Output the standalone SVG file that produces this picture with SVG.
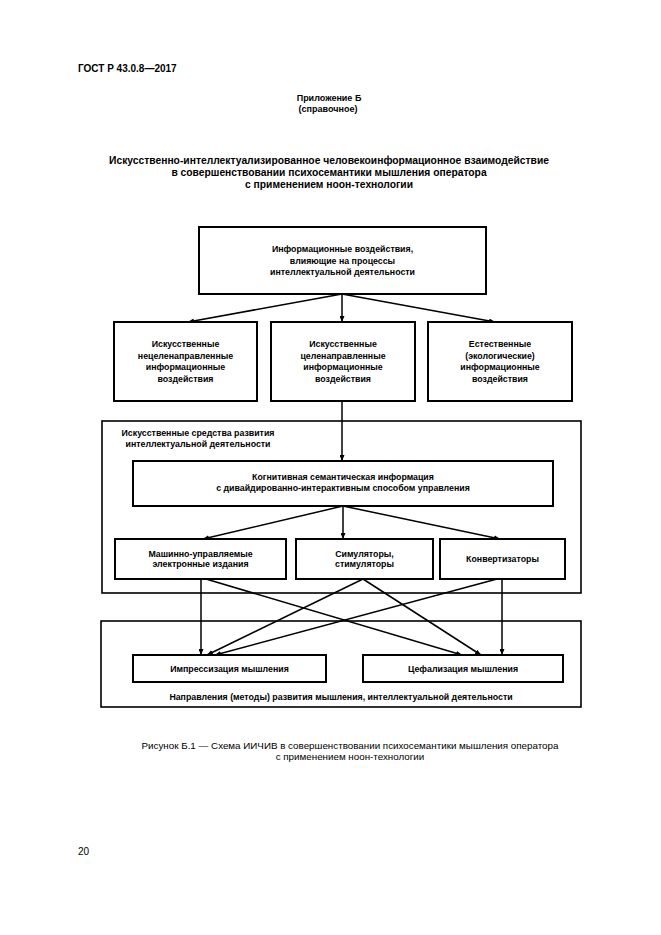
<svg xmlns="http://www.w3.org/2000/svg" width="661" height="935" viewBox="0 0 661 935">
<defs>
<style>
.t{font-family:"Liberation Sans",Arial,sans-serif;fill:#000}
.b{font-weight:bold}
.box{fill:#fff;stroke:#000;stroke-width:2}
.cont{fill:#fff;stroke:#000;stroke-width:1.6}
.ln{stroke:#000;stroke-width:1.5;fill:none}
.nt{font-size:8.8px;font-weight:bold;text-anchor:middle}
</style>
<marker id="ah" markerWidth="6" markerHeight="5" refX="6" refY="2.5" orient="auto" markerUnits="userSpaceOnUse">
<path d="M0,0 L6,2.5 L0,5 Z" fill="#000"/>
</marker>
</defs>
<rect width="661" height="935" fill="#fff"/>
<text class="t b" x="78" y="72" font-size="10">ГОСТ Р 43.0.8—2017</text>
<text class="t b" x="329" y="101" font-size="9" text-anchor="middle">Приложение Б</text>
<text class="t b" x="328" y="112" font-size="9" text-anchor="middle">(справочное)</text>
<text class="t b" x="329" y="164" font-size="10.3" text-anchor="middle">Искусственно-интеллектуализированное человекоинформационное взаимодействие</text>
<text class="t b" x="329" y="176" font-size="10.3" text-anchor="middle">в совершенствовании психосемантики мышления оператора</text>
<text class="t b" x="329" y="188" font-size="10.3" text-anchor="middle">с применением ноон-технологии</text>

<g id="containers">
<rect id="c1" class="cont" x="102" y="421" width="479" height="172"/>
<rect id="c2" class="cont" x="101" y="621" width="480" height="86"/>
<text class="t nt" x="198" y="436">Искусственные средства развития</text>
<text class="t nt" x="198" y="447">интеллектуальной деятельности</text>
<text class="t nt" x="341" y="700">Направления (методы) развития мышления, интеллектуальной деятельности</text>
</g>

<g id="connectors">
<line class="ln" x1="342" y1="294" x2="188" y2="322" marker-end="url(#ah)"/>
<line class="ln" x1="342" y1="294" x2="342" y2="322" marker-end="url(#ah)"/>
<line class="ln" x1="342" y1="294" x2="495" y2="322" marker-end="url(#ah)"/>
<line class="ln" x1="342" y1="401" x2="342" y2="461" marker-end="url(#ah)"/>
<line class="ln" x1="343" y1="506" x2="203" y2="539" marker-end="url(#ah)"/>
<line class="ln" x1="343" y1="506" x2="343" y2="539" marker-end="url(#ah)"/>
<line class="ln" x1="343" y1="506" x2="500" y2="539" marker-end="url(#ah)"/>
<line class="ln" x1="201" y1="579" x2="201" y2="655" marker-end="url(#ah)"/>
<line class="ln" x1="206" y1="579" x2="462" y2="655" marker-end="url(#ah)"/>
<line class="ln" x1="363" y1="579" x2="207" y2="655" marker-end="url(#ah)"/>
<line class="ln" x1="363" y1="579" x2="481" y2="655" marker-end="url(#ah)"/>
<line class="ln" x1="497" y1="579" x2="215" y2="655" marker-end="url(#ah)"/>
<line class="ln" x1="502" y1="579" x2="502" y2="655" marker-end="url(#ah)"/>
</g>

<g id="n-top">
<rect class="box" x="199" y="227" width="287" height="67"/>
<text class="t nt" x="342.5" y="252">Информационные воздействия,</text>
<text class="t nt" x="342.5" y="264">влияющие на процессы</text>
<text class="t nt" x="342.5" y="275">интеллектуальной деятельности</text>
</g>
<g id="n-art-non">
<rect class="box" x="114" y="322" width="143" height="79"/>
<text class="t nt" x="185.5" y="347">Искусственные</text>
<text class="t nt" x="185.5" y="359">нецеленаправленные</text>
<text class="t nt" x="185.5" y="370">информационные</text>
<text class="t nt" x="185.5" y="382">воздействия</text>
</g>
<g id="n-art-dir">
<rect class="box" x="271" y="322" width="144" height="79"/>
<text class="t nt" x="343" y="347">Искусственные</text>
<text class="t nt" x="343" y="359">целенаправленные</text>
<text class="t nt" x="343" y="370">информационные</text>
<text class="t nt" x="343" y="382">воздействия</text>
</g>
<g id="n-nat">
<rect class="box" x="428" y="322" width="144" height="79"/>
<text class="t nt" x="500" y="347">Естественные</text>
<text class="t nt" x="500" y="359">(экологические)</text>
<text class="t nt" x="500" y="370">информационные</text>
<text class="t nt" x="500" y="382">воздействия</text>
</g>
<g id="n-cog">
<rect class="box" x="133" y="461" width="420" height="45"/>
<text class="t nt" x="343" y="480">Когнитивная семантическая информация</text>
<text class="t nt" x="343" y="491">с дивайдированно-интерактивным способом управления</text>
</g>
<g id="n-mach">
<rect class="box" x="115" y="539" width="171" height="40"/>
<text class="t nt" x="200.5" y="557">Машинно-управляемые</text>
<text class="t nt" x="200.5" y="567">электронные издания</text>
</g>
<g id="n-sim">
<rect class="box" x="296" y="539" width="137" height="40"/>
<text class="t nt" x="364.5" y="557">Симуляторы,</text>
<text class="t nt" x="364.5" y="567">стимуляторы</text>
</g>
<g id="n-conv">
<rect class="box" x="440" y="539" width="125" height="40"/>
<text class="t nt" x="502.5" y="562">Конвертизаторы</text>
</g>
<g id="n-imp">
<rect class="box" x="133" y="655" width="193" height="27"/>
<text class="t nt" x="229.5" y="672">Импрессизация мышления</text>
</g>
<g id="n-cef">
<rect class="box" x="363" y="655" width="200" height="27"/>
<text class="t nt" x="463" y="672">Цефализация мышления</text>
</g>

<text class="t" x="350" y="749" font-size="9.8" text-anchor="middle">Рисунок Б.1 — Схема ИИЧИВ в совершенствовании психосемантики мышления оператора</text>
<text class="t" x="350" y="760" font-size="9.8" text-anchor="middle">с применением ноон-технологии</text>
<text class="t" x="78" y="855" font-size="10">20</text>
</svg>
